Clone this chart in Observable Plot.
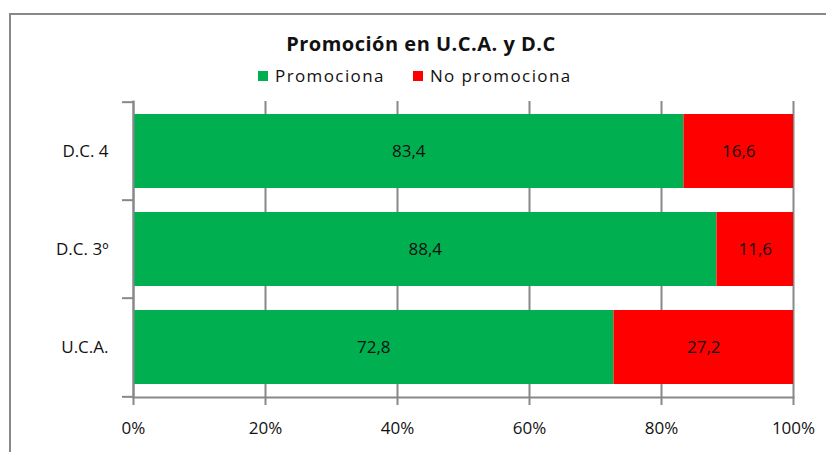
<!DOCTYPE html>
<html>
<head>
<meta charset="utf-8">
<script src="https://cdn.jsdelivr.net/npm/d3@7"></script>
<script src="https://cdn.jsdelivr.net/npm/@observablehq/plot@0.6"></script>
<style>
  html, body { margin: 0; padding: 0; background: #fff; width: 826px; height: 452px; overflow: hidden; }
  body { position: relative; font-family: "Open Sans", sans-serif; }
  #frame { position: absolute; left: 9px; top: 13px; width: 900px; height: 500px; border-top: 2px solid #888; border-left: 2px solid #888; }
  #title { position: absolute; left: 0; width: 842px; top: 30px; text-align: center; font-weight: bold; font-size: 20px; color: #111; letter-spacing: 0.5px; line-height: 28px; }
  #legend { position: absolute; left: 258px; top: 64px; font-size: 17px; color: #111; letter-spacing: 1.4px; display: flex; align-items: center; line-height: 24px; }
  .sw { display: inline-block; width: 10px; height: 10px; margin-right: 7px; }
  .item { display: flex; align-items: center; margin-right: 28px; }
  #chart { position: absolute; left: 0; top: 0; }
</style>
</head>
<body>
<div id="frame"></div>
<div id="title">Promoción en U.C.A. y D.C</div>
<div id="legend"></div>
<div id="chart"></div>
<script>
const categories = ["D.C. 4", "D.C. 3º", "U.C.A."];
const series = ["Promociona", "No promociona"];
const colors = ["#00B050", "#FF0000"];
const promociona = [83.4, 88.4, 72.8];
const noPromociona = [16.6, 11.6, 27.2];
const xTicks = [0, 20, 40, 60, 80, 100];

const data = [];
categories.forEach((c, i) => {
  data.push({cat: c, serie: series[0], value: promociona[i]});
  data.push({cat: c, serie: series[1], value: noPromociona[i]});
});

const legend = document.getElementById("legend");
series.forEach((s, i) => {
  const it = document.createElement("span");
  it.className = "item";
  it.innerHTML = `<span class="sw" style="background:${colors[i]}"></span>${s}`;
  legend.appendChild(it);
});

const W = 826, H = 452;
const mT = 101, mB = 55, mL = 133, mR = 33;
const step = (H - mT - mB) / categories.length;
const fmt = v => d3.format(".1f")(v).replace(".", ",");

const chart = Plot.plot({
  width: W, height: H,
  marginTop: mT, marginBottom: mB, marginLeft: mL, marginRight: mR,
  style: {fontFamily: "Open Sans, sans-serif", fontSize: "17px", color: "#111", background: "transparent"},
  x: {domain: [0, 100], ticks: xTicks},
  y: {domain: categories, paddingInner: 0.25, paddingOuter: 0.125},
  color: {domain: series, range: colors},
  marks: [
    Plot.gridX(xTicks, {stroke: "#888", strokeOpacity: 1, strokeWidth: 2}),
    Plot.barX(data, Plot.stackX({y: "cat", x: "value", fill: "serie", order: series})),
    Plot.text(data, Plot.stackX({y: "cat", x: "value", z: "serie", order: series, text: d => fmt(d.value), fill: "#111", fontSize: 17, letterSpacing: 1.4})),
    Plot.axisX(xTicks, {tickSize: 8, tickPadding: 16, stroke: "#888", strokeWidth: 2, strokeOpacity: 1, tickFormat: d => d + "%", fontSize: 17, letterSpacing: 2, label: null}),
    Plot.axisY({tickSize: 0, tickPadding: 25, fontSize: 17, letterSpacing: 1.4, label: null}),
    Plot.axisY({text: null, tickSize: 11, dy: -step / 2, stroke: "#888", strokeWidth: 2, strokeOpacity: 1, label: null}),
    Plot.axisY([categories[categories.length - 1]], {text: null, tickSize: 11, dy: step / 2, stroke: "#888", strokeWidth: 2, strokeOpacity: 1, label: null}),
    Plot.frame({anchor: "bottom", stroke: "#888", strokeWidth: 2}),
    Plot.frame({anchor: "left", stroke: "#888", strokeWidth: 2})
  ]
});
document.getElementById("chart").appendChild(chart);
</script>
</body>
</html>
